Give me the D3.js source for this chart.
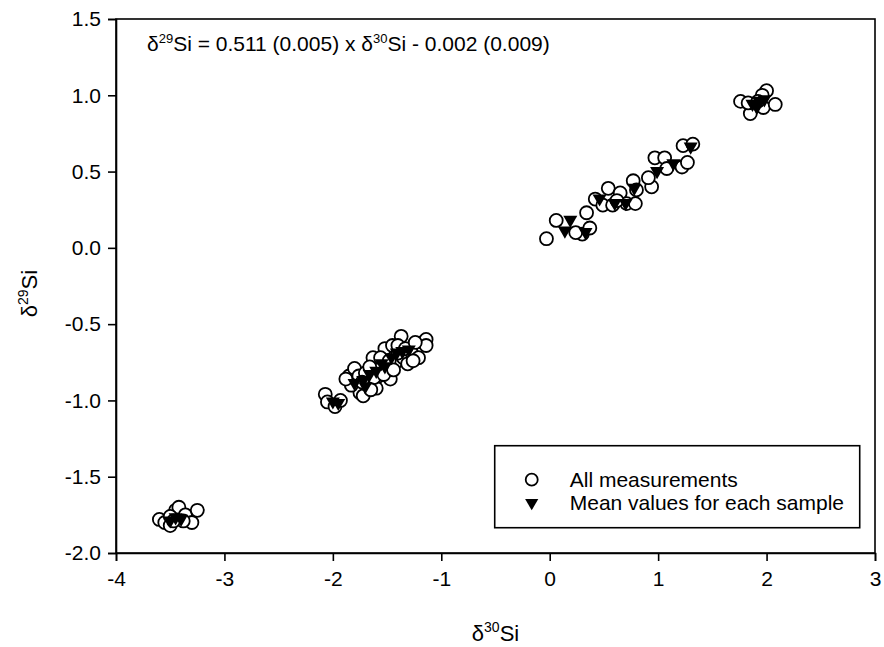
<!DOCTYPE html>
<html>
<head>
<meta charset="utf-8">
<script src="https://cdn.jsdelivr.net/npm/d3@7"></script>
<style>
  body { margin: 0; background: #fff; }
  svg text { font-family: Arial, "Liberation Sans", sans-serif; fill: #000; }
</style>
</head>
<body>
<svg id="chart" width="884" height="647"></svg>
<script>
// all measurements: [d30Si, d29Si]
const measurements = [
  // sample group near -3.5
  [-3.60, -1.78], [-3.55, -1.80], [-3.50, -1.82], [-3.45, -1.72], [-3.42, -1.70],
  [-3.36, -1.75], [-3.30, -1.80], [-3.25, -1.72], [-3.50, -1.76], [-3.38, -1.79],
  [-3.47, -1.79],
  // group -2 .. -1.1
  [-2.07, -0.96], [-2.05, -1.01], [-1.98, -1.04], [-1.93, -1.00], [-1.85, -0.84],
  [-1.80, -0.79], [-1.81, -0.88], [-1.75, -0.95], [-1.72, -0.97], [-1.68, -0.90],
  [-1.63, -0.72], [-1.60, -0.92], [-1.58, -0.84], [-1.52, -0.66], [-1.50, -0.80],
  [-1.47, -0.86], [-1.45, -0.64], [-1.42, -0.75], [-1.37, -0.58], [-1.35, -0.72],
  [-1.31, -0.76], [-1.28, -0.68], [-1.21, -0.72], [-1.17, -0.62], [-1.14, -0.60],
  [-1.14, -0.64], [-1.76, -0.84], [-1.55, -0.78], [-1.40, -0.69], [-1.83, -0.90],
  [-1.70, -0.82], [-1.66, -0.78], [-1.62, -0.85], [-1.56, -0.72], [-1.53, -0.83],
  [-1.48, -0.74], [-1.44, -0.80], [-1.40, -0.64], [-1.33, -0.66], [-1.26, -0.74],
  [-1.73, -0.88], [-1.65, -0.93], [-1.88, -0.86], [-1.24, -0.62],
  // group 0 .. 1.3
  [-0.03, 0.06], [0.06, 0.18], [0.34, 0.23], [0.30, 0.09], [0.37, 0.13],
  [0.24, 0.10], [0.42, 0.32], [0.49, 0.28], [0.54, 0.39], [0.58, 0.28],
  [0.65, 0.36], [0.71, 0.29], [0.79, 0.29], [0.77, 0.44], [0.80, 0.38],
  [0.94, 0.40], [0.91, 0.46], [0.97, 0.59], [1.06, 0.59], [1.08, 0.52],
  [1.22, 0.53], [1.27, 0.56], [1.23, 0.67], [1.32, 0.68], [0.62, 0.31],
  // group near 1.9
  [1.76, 0.96], [1.85, 0.88], [1.97, 0.92], [2.08, 0.94], [2.00, 1.03],
  [1.96, 1.00], [1.83, 0.95], [1.92, 0.96]
];

// mean values for each sample
const means = [
  [-3.50, -1.78], [-3.45, -1.76], [-3.40, -1.77],
  [-2.00, -1.00], [-1.95, -1.01], [-1.80, -0.88], [-1.72, -0.86], [-1.66, -0.82],
  [-1.60, -0.80], [-1.52, -0.77], [-1.46, -0.71], [-1.41, -0.68], [-1.36, -0.67],
  [-1.30, -0.66], [-1.70, -0.90], [-1.55, -0.75],
  [0.14, 0.12], [0.19, 0.19], [0.33, 0.11], [0.46, 0.33], [0.60, 0.30],
  [0.70, 0.30], [0.78, 0.40], [0.99, 0.51], [1.14, 0.56], [1.30, 0.67],
  [1.87, 0.95], [1.93, 0.97], [1.98, 0.98], [1.91, 0.93]
];

const xTicks = [-4, -3, -2, -1, 0, 1, 2, 3];
const yTicks = [-2.0, -1.5, -1.0, -0.5, 0.0, 0.5, 1.0, 1.5];
const legendLabels = ["All measurements", "Mean values for each sample"];

const svg = d3.select("#chart");
const margin = { top: 19, right: 9, bottom: 94, left: 116 };
const width = 884 - margin.left - margin.right;
const height = 647 - margin.top - margin.bottom;

const g = svg.append("g").attr("transform", `translate(${margin.left},${margin.top})`);

const x = d3.scaleLinear().domain([-4, 3]).range([0, width]);
const y = d3.scaleLinear().domain([-2, 1.5]).range([height, 0]);

// frame
g.append("rect")
  .attr("width", width).attr("height", height)
  .attr("fill", "none").attr("stroke", "#000").attr("stroke-width", 1.6);

// hyphen minus like the original
const fmt = f => v => d3.format(f)(v).replace("−", "-");

const xAxis = g.append("g")
  .attr("transform", `translate(0,${height})`)
  .call(d3.axisBottom(x).tickValues(xTicks).tickSize(8).tickPadding(10).tickFormat(fmt("d")));
const yAxis = g.append("g")
  .call(d3.axisLeft(y).tickValues(yTicks).tickSize(8).tickPadding(7).tickFormat(fmt(".1f")));

[xAxis, yAxis].forEach(a => {
  a.select(".domain").attr("stroke-width", 1.6);
  a.selectAll(".tick line").attr("stroke-width", 1.6);
  a.selectAll("text").attr("font-size", 21).attr("font-family", "Arial, 'Liberation Sans', sans-serif");
});

// points
g.selectAll(".meas")
  .data(measurements)
  .join("circle")
  .attr("class", "meas")
  .attr("cx", d => x(d[0]))
  .attr("cy", d => y(d[1]))
  .attr("r", 6.5)
  .attr("fill", "#fff")
  .attr("stroke", "#000")
  .attr("stroke-width", 1.8);

const tri = d3.symbol().type(d3.symbolTriangle).size(85);
g.selectAll(".mean")
  .data(means)
  .join("path")
  .attr("class", "mean")
  .attr("transform", d => `translate(${x(d[0])},${y(d[1]) + 1}) rotate(180)`)
  .attr("d", tri)
  .attr("fill", "#000");

// equation
const eq = g.append("text").attr("x", 31).attr("y", 32).attr("font-size", 21);
eq.append("tspan").text("δ");
eq.append("tspan").attr("font-size", 13).attr("dy", -8).text("29");
eq.append("tspan").attr("dy", 8).text("Si = 0.511 (0.005) x δ");
eq.append("tspan").attr("font-size", 13).attr("dy", -8).text("30");
eq.append("tspan").attr("dy", 8).text("Si - 0.002 (0.009)");

// legend
const lg = g.append("g").attr("transform", `translate(${x(0) - 55},${y(-1.5) - 31})`);
lg.append("rect").attr("width", 365).attr("height", 82)
  .attr("fill", "#fff").attr("stroke", "#000").attr("stroke-width", 1.6);
lg.append("circle").attr("cx", 37).attr("cy", 34).attr("r", 6)
  .attr("fill", "#fff").attr("stroke", "#000").attr("stroke-width", 1.8);
lg.append("path").attr("d", d3.symbol().type(d3.symbolTriangle).size(75))
  .attr("transform", "translate(37,57) rotate(180)").attr("fill", "#000");
lg.selectAll(".ltxt")
  .data(legendLabels)
  .join("text")
  .attr("class", "ltxt")
  .attr("x", 75)
  .attr("y", (d, i) => 41 + i * 23)
  .attr("font-size", 21)
  .text(d => d);

// axis titles
const xt = svg.append("text").attr("x", margin.left + x(-0.5)).attr("y", 641)
  .attr("text-anchor", "middle").attr("font-size", 22);
xt.append("tspan").text("δ");
xt.append("tspan").attr("font-size", 14).attr("dy", -9).text("30");
xt.append("tspan").attr("dy", 9).text("Si");

const yt = svg.append("text")
  .attr("transform", `translate(37,${margin.top + y(-0.3)}) rotate(-90)`)
  .attr("text-anchor", "middle").attr("font-size", 22);
yt.append("tspan").text("δ");
yt.append("tspan").attr("font-size", 14).attr("dy", -9).text("29");
yt.append("tspan").attr("dy", 9).text("Si");
</script>
</body>
</html>
